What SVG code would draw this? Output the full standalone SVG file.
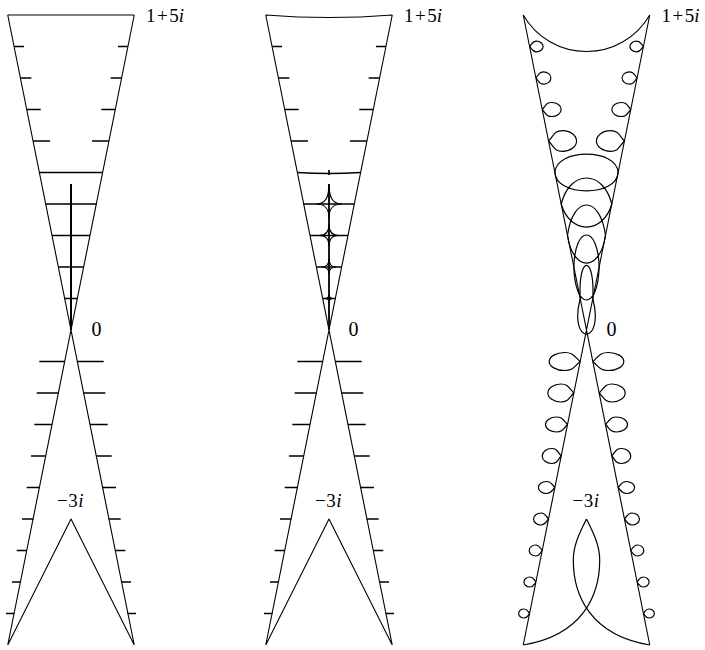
<svg xmlns="http://www.w3.org/2000/svg" width="705" height="650" viewBox="0 0 705 650">
<style>
.ln{fill:none;stroke:#000;stroke-width:1.1;stroke-linejoin:round}
.tk{fill:none;stroke:#000;stroke-width:1.7}
.cv{fill:none;stroke:#000;stroke-width:1.2}
.lb{font-family:"Liberation Serif","Times New Roman",serif;font-size:19px;fill:#000}
.zr{font-family:"Liberation Serif","Times New Roman",serif;font-size:20px;fill:#000}
</style>
<rect width="705" height="650" fill="#fff"/>

<g id="panel1">
  <path class="ln" d="M7.75,15 H134.25 M7.75,15 L134.25,645 M134.25,15 L7.75,645 M7.75,645 L71,519 L134.25,645"/>
  <path class="tk" d="M14.1,46.5 h10 M127.9,46.5 h-10 M20.4,78 h11 M121.6,78 h-11 M26.7,109.5 h14 M115.3,109.5 h-14 M33,141 h17 M109,141 h-17
    M39.4,172.5 H102.6 M45.7,204 H96.3 M52,235.5 H90 M58.35,267 H83.65 M64.7,298.5 H77.3
    M39.3,361.5 H64.7 M77.3,361.5 H103.7 M36.7,393 H58.4 M83.6,393 H105.3 M34.3,424.5 H52 M90,424.5 H107.7 M31,456 H45.7 M96.3,456 H111.7 M26.7,487.5 H40 M102,487.5 H116 M22,519 H33.3 M108.7,519 H120.7 M16.7,550.5 H27 M115,550.5 H125.3 M12,582 H20.5 M121.5,582 H131 M6,613.5 H14.3 M127.7,613.5 H136"/>
  <path class="tk" d="M71,184 V330" style="stroke-width:2"/>
  <text class="lb" x="146" y="21.7">1<tspan dx="1.5">+</tspan><tspan dx="1.5">5</tspan><tspan font-style="italic">i</tspan></text>
  <text class="zr" x="91.5" y="336">0</text>
  <text class="lb" x="57" y="507">−<tspan dx="0.5">3</tspan><tspan dx="0.5" font-style="italic">i</tspan></text>
</g>

<g id="panel2" transform="translate(258,0)">
  <path class="ln" d="M7.75,15 Q71,20 134.25,15 M7.75,15 L134.25,645 M134.25,15 L7.75,645 M7.75,645 L71,519 L134.25,645"/>
  <path class="tk" d="M14.1,46.5 h10 M127.9,46.5 h-10 M20.4,78 h11 M121.6,78 h-11 M26.7,109.5 h14 M115.3,109.5 h-14 M33,141 h17 M109,141 h-17
    M39.4,172.5 Q71,174.5 102.6,172.5 M71,170 V175 M45.7,204 H96.3 M52,235.5 H90 M58.35,267 H83.65 M64.7,298.5 H77.3
    M39.3,361.5 H64.7 M77.3,361.5 H103.7 M36.7,393 H58.4 M83.6,393 H105.3 M34.3,424.5 H52 M90,424.5 H107.7 M31,456 H45.7 M96.3,456 H111.7 M26.7,487.5 H40 M102,487.5 H116 M22,519 H33.3 M108.7,519 H120.7 M16.7,550.5 H27 M115,550.5 H125.3 M12,582 H20.5 M121.5,582 H131 M6,613.5 H14.3 M127.7,613.5 H136"/>
  <path class="tk" d="M71,184 V330" style="stroke-width:1.8"/>
  <path class="cv" d="M58,204 C67.1,204 71,198 71,184 C71,198 74.9,204 84,204 C74.9,204 71,208.2 71,218 C71,208.2 67.1,204 58,204 Z
    M61,235.5 C68,235.5 71,232.2 71,224.5 C71,232.2 74,235.5 81,235.5 C74,235.5 71,238.5 71,245.5 C71,238.5 68,235.5 61,235.5 Z
    M64,267 C68.9,267 71,264.6 71,259 C71,264.6 73.1,267 78,267 C73.1,267 71,269.1 71,274 C71,269.1 68.9,267 64,267 Z
    M67,298.5 C69.8,298.5 71,297.3 71,294.5 C71,297.3 72.2,298.5 75,298.5 C72.2,298.5 71,299.7 71,302.5 C71,299.7 69.8,298.5 67,298.5 Z"/>
  <text class="lb" x="146" y="21.7">1<tspan dx="1.5">+</tspan><tspan dx="1.5">5</tspan><tspan font-style="italic">i</tspan></text>
  <text class="zr" x="90.5" y="336">0</text>
  <text class="lb" x="57" y="507">−<tspan dx="0.5">3</tspan><tspan dx="0.5" font-style="italic">i</tspan></text>
</g>

<g id="panel3" transform="translate(515.5,0)">
  <path class="ln" d="M7.75,15 A73,73 0 0 0 134.25,15 M7.75,15 L134.25,645 M134.25,15 L7.75,645"/>
  <path class="cv" d="M71,519 C64.5,532 57.8,545 57.8,560 C57.8,595 74.5,635 134.25,645 M71,519 C77.5,532 84.2,545 84.2,560 C84.2,595 67.5,635 7.75,645"/>
  <path class="cv" d="M14.1,46.5 c2.7,-3.18 2.97,-5.3 6.75,-5.3 c3.73,0 6.75,2.37 6.75,5.3 c0,2.93 -3.02,5.3 -6.75,5.3 c-3.78,0 -4.05,-2.12 -6.75,-5.3
    M127.9,46.5 c-2.7,-3.18 -2.97,-5.3 -6.75,-5.3 c-3.73,0 -6.75,2.37 -6.75,5.3 c0,2.93 3.02,5.3 6.75,5.3 c3.78,0 4.05,-2.12 6.75,-5.3
    M20.4,78 c3,-3.69 3.3,-6.15 7.5,-6.15 c4.14,0 7.5,2.76 7.5,6.15 c0,3.39 -3.36,6.15 -7.5,6.15 c-4.2,0 -4.5,-2.46 -7.5,-6.15
    M121.6,78 c-3,-3.69 -3.3,-6.15 -7.5,-6.15 c-4.14,0 -7.5,2.76 -7.5,6.15 c0,3.39 3.36,6.15 7.5,6.15 c4.2,0 4.5,-2.46 7.5,-6.15
    M26.7,109.5 c3.8,-4.2 4.18,-7 9.5,-7 c5.24,0 9.5,3.14 9.5,7 c0,3.86 -4.26,7 -9.5,7 c-5.32,0 -5.7,-2.8 -9.5,-7
    M115.3,109.5 c-3.8,-4.2 -4.18,-7 -9.5,-7 c-5.24,0 -9.5,3.14 -9.5,7 c0,3.86 4.26,7 9.5,7 c5.32,0 5.7,-2.8 9.5,-7
    M33.05,141 c5.6,-6.21 6.16,-10.35 14,-10.35 c7.73,0 14,4.64 14,10.35 c0,5.71 -6.27,10.35 -14,10.35 c-7.84,0 -8.4,-4.14 -14,-10.35
    M108.95,141 c-5.6,-6.21 -6.16,-10.35 -14,-10.35 c-7.73,0 -14,4.64 -14,10.35 c0,5.71 6.27,10.35 14,10.35 c7.84,0 8.4,-4.14 14,-10.35"/>
  <path class="cv" d="M39.4,172.5 C40.5,148 101.5,148 102.6,172.5 C101.5,197 40.5,197 39.4,172.5 Z
    M45.7,204 C54.5,169.3 87.5,169.3 96.3,204 C87.5,234.7 54.5,234.7 45.7,204 Z
    M52,235.5 C57.5,194.8 84.5,194.8 90,235.5 C84.5,272.2 57.5,272.2 52,235.5 Z
    M58.35,267 C59.5,224.3 82.5,224.3 83.65,267 C82.5,311 59.5,311 58.35,267 Z
    M64.7,298.5 C62.5,254.3 79.5,254.3 77.3,298.5 C89.5,346 52.5,346 64.7,298.5 Z"/>
  <path class="cv" d="M64.7,361.5 c-6.2,-5.4 -6.82,-9 -15.5,-9 c-8.56,0 -15.5,4.03 -15.5,9 c0,4.97 6.94,9 15.5,9 c8.68,0 9.3,-3.6 15.5,-9
    M77.3,361.5 c6.2,-5.4 6.82,-9 15.5,-9 c8.56,0 15.5,4.03 15.5,9 c0,4.97 -6.94,9 -15.5,9 c-8.68,0 -9.3,-3.6 -15.5,-9
    M58.35,393 c-5.2,-5.4 -5.72,-9 -13,-9 c-7.18,0 -13,4.03 -13,9 c0,4.97 5.82,9 13,9 c7.28,0 7.8,-3.6 13,-9
    M83.65,393 c5.2,-5.4 5.72,-9 13,-9 c7.18,0 13,4.03 13,9 c0,4.97 -5.82,9 -13,9 c-7.28,0 -7.8,-3.6 -13,-9
    M52,424.5 c-4.4,-4.5 -4.84,-7.5 -11,-7.5 c-6.07,0 -11,3.36 -11,7.5 c0,4.14 4.93,7.5 11,7.5 c6.16,0 6.6,-3 11,-7.5
    M90,424.5 c4.4,-4.5 4.84,-7.5 11,-7.5 c6.07,0 11,3.36 11,7.5 c0,4.14 -4.93,7.5 -11,7.5 c-6.16,0 -6.6,-3 -11,-7.5
    M45.7,456 c-3.8,-4.5 -4.18,-7.5 -9.5,-7.5 c-5.24,0 -9.5,3.36 -9.5,7.5 c0,4.14 4.26,7.5 9.5,7.5 c5.32,0 5.7,-3 9.5,-7.5
    M96.3,456 c3.8,-4.5 4.18,-7.5 9.5,-7.5 c5.24,0 9.5,3.36 9.5,7.5 c0,4.14 -4.26,7.5 -9.5,7.5 c-5.32,0 -5.7,-3 -9.5,-7.5
    M39.4,487.5 c-3.3,-3.6 -3.63,-6 -8.25,-6 c-4.55,0 -8.25,2.69 -8.25,6 c0,3.31 3.7,6 8.25,6 c4.62,0 4.95,-2.4 8.25,-6
    M102.6,487.5 c3.3,-3.6 3.63,-6 8.25,-6 c4.55,0 8.25,2.69 8.25,6 c0,3.31 -3.7,6 -8.25,6 c-4.62,0 -4.95,-2.4 -8.25,-6
    M33.05,519 c-3,-3.6 -3.3,-6 -7.5,-6 c-4.14,0 -7.5,2.69 -7.5,6 c0,3.31 3.36,6 7.5,6 c4.2,0 4.5,-2.4 7.5,-6
    M108.95,519 c3,-3.6 3.3,-6 7.5,-6 c4.14,0 7.5,2.69 7.5,6 c0,3.31 -3.36,6 -7.5,6 c-4.2,0 -4.5,-2.4 -7.5,-6
    M26.7,550.5 c-2.6,-3.3 -2.86,-5.5 -6.5,-5.5 c-3.59,0 -6.5,2.46 -6.5,5.5 c0,3.04 2.91,5.5 6.5,5.5 c3.64,0 3.9,-2.2 6.5,-5.5
    M115.3,550.5 c2.6,-3.3 2.86,-5.5 6.5,-5.5 c3.59,0 6.5,2.46 6.5,5.5 c0,3.04 -2.91,5.5 -6.5,5.5 c-3.64,0 -3.9,-2.2 -6.5,-5.5
    M20.4,582 c-2.4,-3 -2.64,-5 -6,-5 c-3.31,0 -6,2.24 -6,5 c0,2.76 2.69,5 6,5 c3.36,0 3.6,-2 6,-5
    M121.6,582 c2.4,-3 2.64,-5 6,-5 c3.31,0 6,2.24 6,5 c0,2.76 -2.69,5 -6,5 c-3.36,0 -3.6,-2 -6,-5
    M14.1,613.5 c-2.2,-2.7 -2.42,-4.5 -5.5,-4.5 c-3.04,0 -5.5,2.02 -5.5,4.5 c0,2.48 2.46,4.5 5.5,4.5 c3.08,0 3.3,-1.8 5.5,-4.5
    M127.9,613.5 c2.2,-2.7 2.42,-4.5 5.5,-4.5 c3.04,0 5.5,2.02 5.5,4.5 c0,2.48 -2.46,4.5 -5.5,4.5 c-3.08,0 -3.3,-1.8 -5.5,-4.5"/>
  <text class="lb" x="146" y="21.7">1<tspan dx="1.5">+</tspan><tspan dx="1.5">5</tspan><tspan font-style="italic">i</tspan></text>
  <text class="zr" x="91" y="336">0</text>
  <text class="lb" x="57" y="507">−<tspan dx="0.5">3</tspan><tspan dx="0.5" font-style="italic">i</tspan></text>
</g>
</svg>
